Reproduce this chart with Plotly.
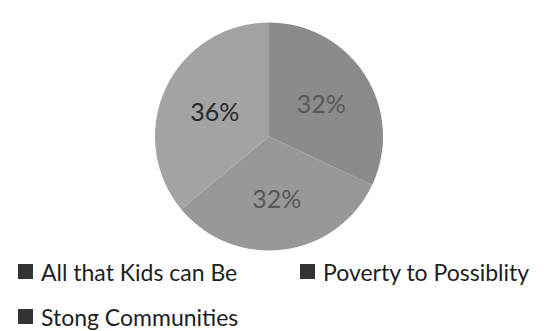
import plotly.graph_objects as go

labels = ["All that Kids can Be", "Poverty to Possiblity", "Stong Communities"]
values = [32, 32, 36]
slice_colors = ["#8b8b8b", "#989898", "#a3a3a3"]
text_colors = ["#595959", "#595959", "#2a2a2a"]

fig = go.Figure(go.Pie(
    labels=labels,
    values=values,
    sort=False,
    direction="clockwise",
    rotation=0,
    marker=dict(colors=slice_colors, line=dict(width=0)),
    texttemplate="%{percent:.0%}",
    textposition="inside",
    insidetextorientation="horizontal",
    textfont=dict(family="Lato", size=25, color=text_colors),
    showlegend=False,
    hoverinfo="skip",
    domain=dict(x=[147/550, 375/550], y=[1-245/331, 1-12/331]),
))

# legend built as text entries with square markers
legend_pos = [(10, 264), (292, 264), (10, 309)]
for lab, (lx, ly) in zip(labels, legend_pos):
    fig.add_shape(type="rect", xref="paper", yref="paper",
                  x0=lx/550, x1=(lx+15)/550, y0=1-(ly+7)/331, y1=1-(ly-8)/331,
                  fillcolor="#333333", line=dict(width=0))
    fig.add_annotation(text=lab, xref="paper", yref="paper",
                       x=(lx+21)/550, y=1-ly/331, xanchor="left", yanchor="middle",
                       showarrow=False,
                       font=dict(family="Lato", size=23, color="#1e1e1e"))

fig.update_layout(
    width=550, height=331,
    margin=dict(l=0, r=0, t=0, b=0),
    paper_bgcolor="white", plot_bgcolor="white",
)

fig.write_html("out.html")
